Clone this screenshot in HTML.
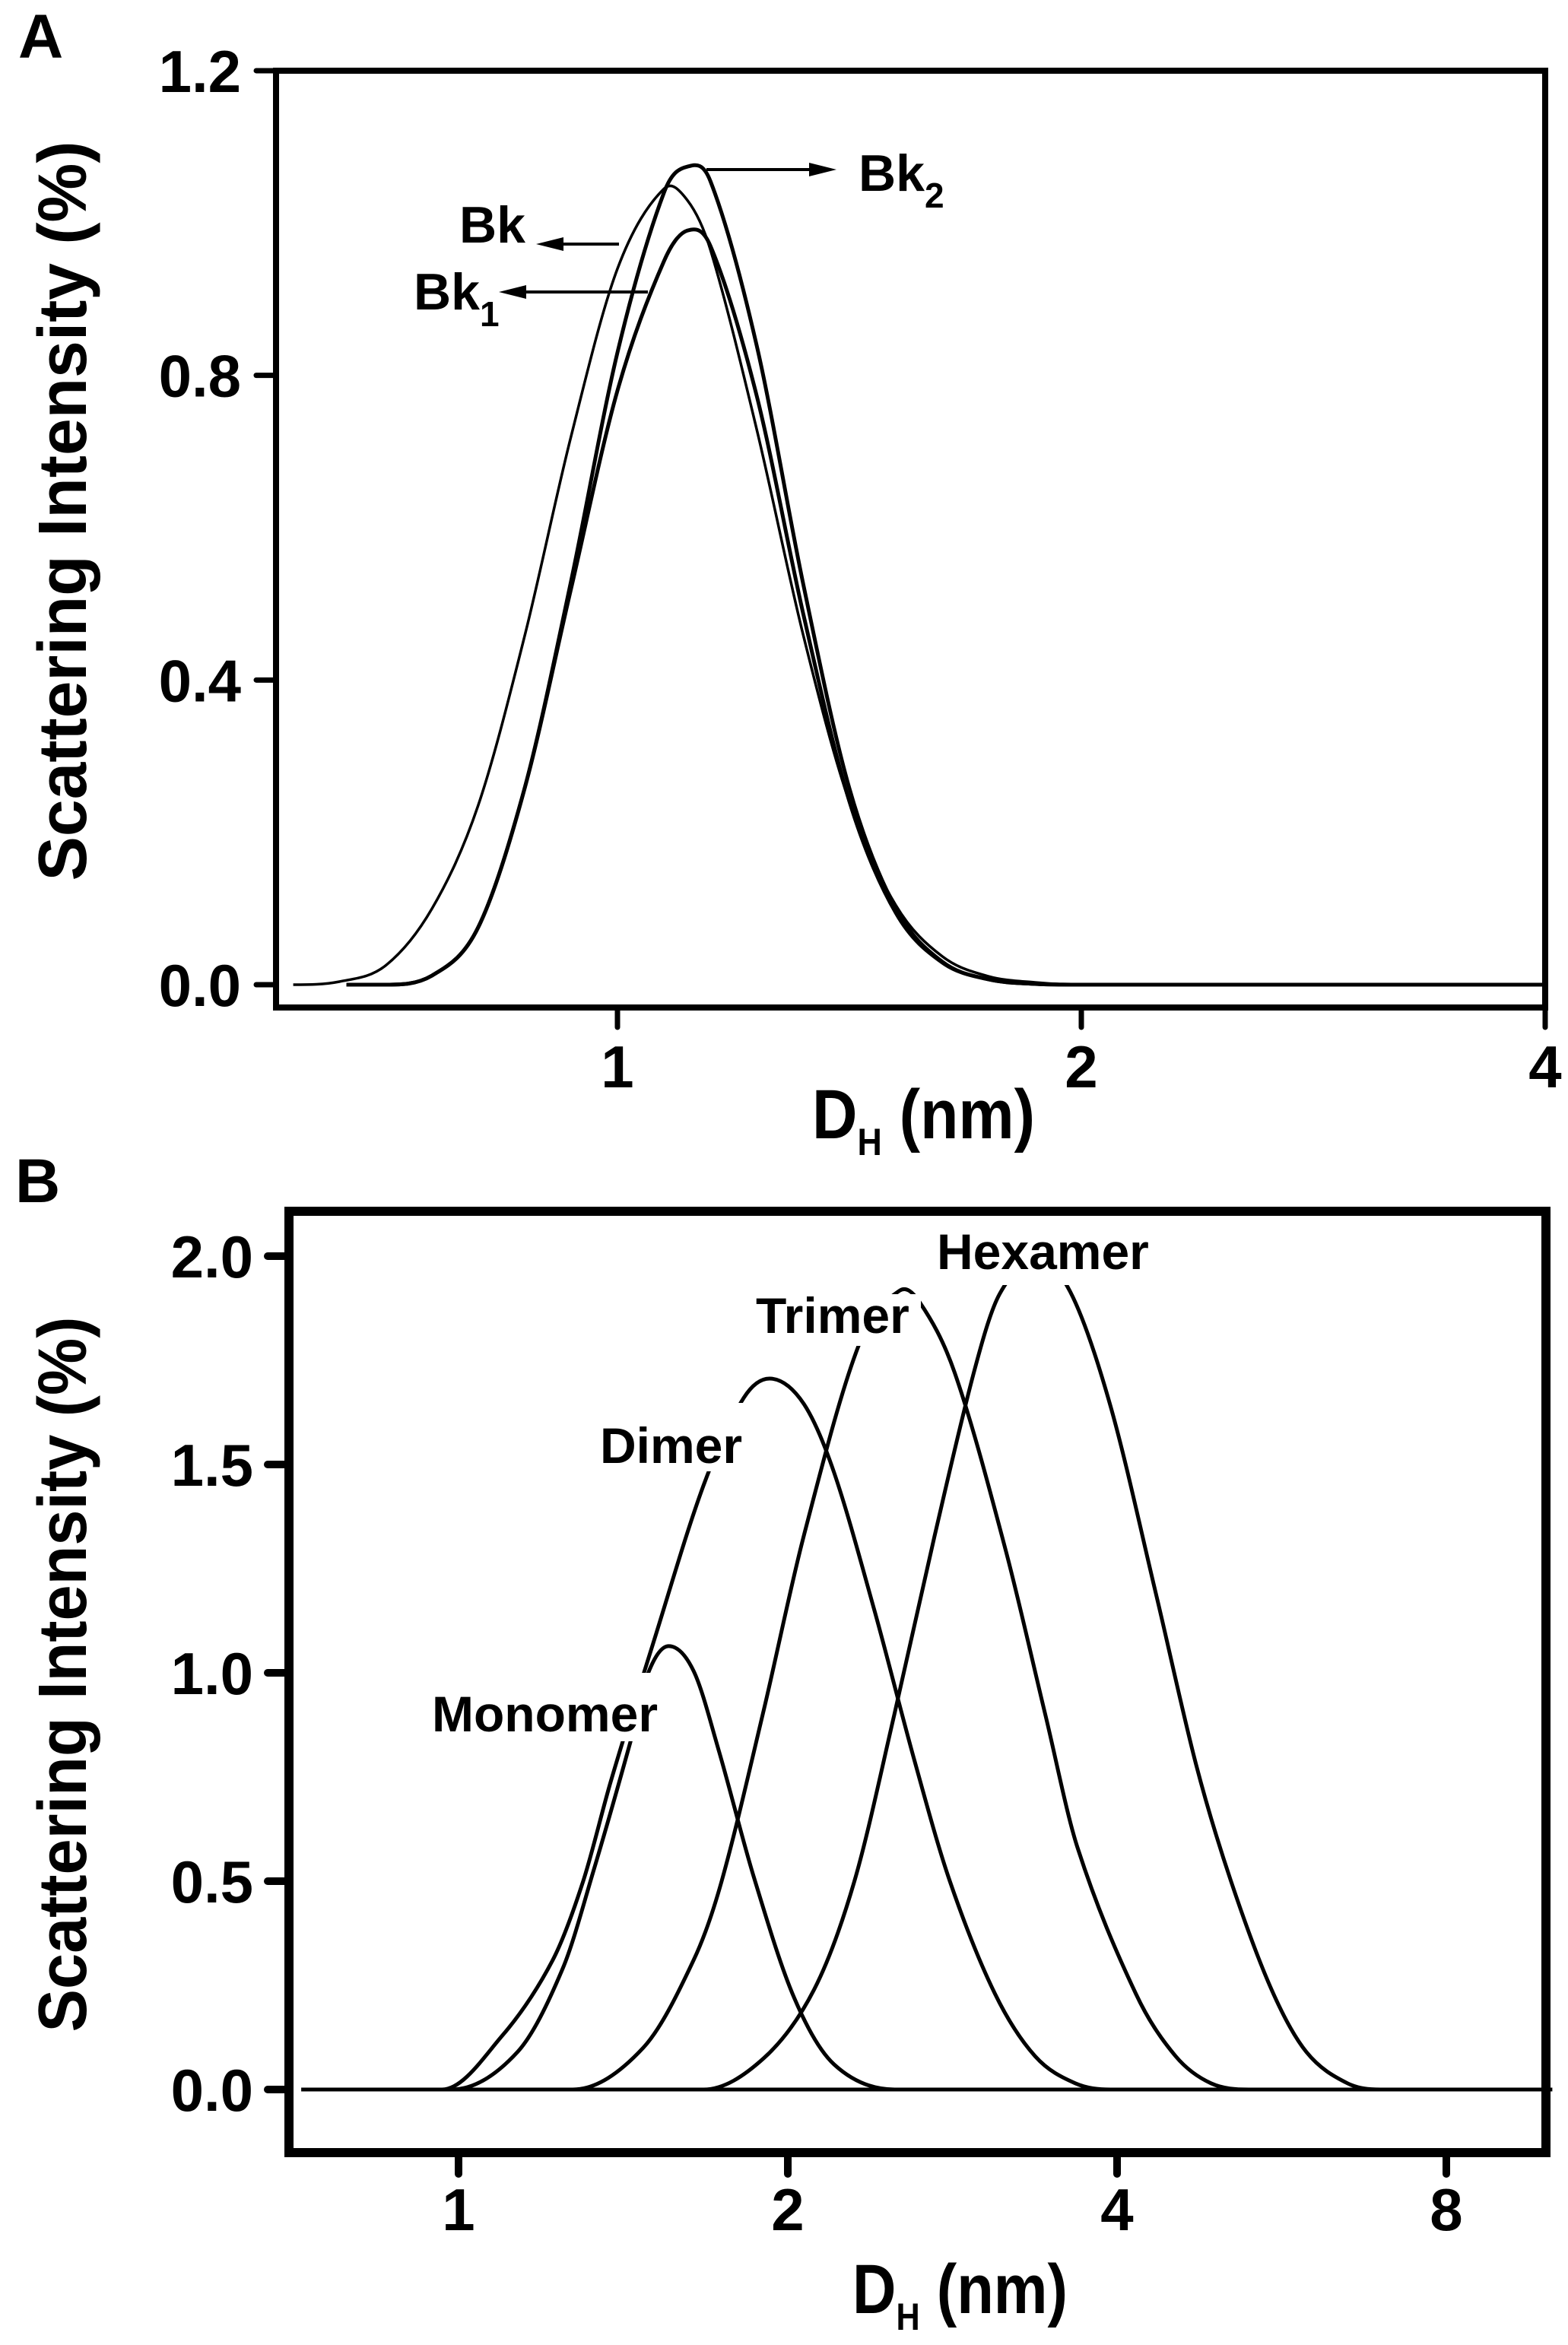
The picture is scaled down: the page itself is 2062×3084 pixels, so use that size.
<!DOCTYPE html>
<html>
<head>
<meta charset="utf-8">
<style>
  html,body{margin:0;padding:0;background:#fff;}
  svg{display:block;}
  text{font-family:"Liberation Sans",Arial,sans-serif;font-weight:bold;fill:#000;}
</style>
</head>
<body>
<svg id="fig" width="2062" height="3084" viewBox="0 0 2062 3084" xmlns="http://www.w3.org/2000/svg">
  <rect x="0" y="0" width="2062" height="3084" fill="#fff"/>
  <g id="panelA">
    <text x="24" y="76" font-size="82">A</text>
    <g id="curvesA"></g>
    <rect x="363" y="93" width="1669" height="1232" fill="none" stroke="#000" stroke-width="8"/>
    <g id="ticksA"></g>
    <text transform="translate(113,672) rotate(-90)" text-anchor="middle" font-size="90" textLength="973" lengthAdjust="spacingAndGlyphs">Scattering Intensity (%)</text>
    <text x="1068" y="1497" font-size="92" textLength="293" lengthAdjust="spacingAndGlyphs">D<tspan font-size="50" dy="22">H</tspan><tspan dy="-22"> (nm)</tspan></text>
    <g>
      <line x1="929" y1="223" x2="1070" y2="223" stroke="#000" stroke-width="4"/>
      <polygon points="1100,223 1064,214 1064,232" fill="#000"/>
      <text x="1129" y="251" font-size="68">Bk<tspan font-size="46" dy="22">2</tspan></text>
    </g>
    <g>
      <line x1="814" y1="321" x2="735" y2="321" stroke="#000" stroke-width="4"/>
      <polygon points="705,321 741,312 741,330" fill="#000"/>
      <text x="604" y="319" font-size="68">Bk</text>
    </g>
    <g>
      <line x1="852" y1="384" x2="686" y2="384" stroke="#000" stroke-width="4"/>
      <polygon points="656,384 692,375 692,393" fill="#000"/>
      <text x="544" y="407" font-size="68">Bk<tspan font-size="46" dy="22">1</tspan></text>
    </g>
  </g>
  <g id="panelB">
    <text x="20" y="1581" font-size="82">B</text>
    <g id="curvesB"></g>
    <g>
      <rect x="560" y="2200" width="322" height="90" fill="#fff"/>
      <text x="568" y="2277" font-size="66">Monomer</text>
      <rect x="780" y="1845" width="210" height="90" fill="#fff"/>
      <text x="789" y="1924" font-size="66">Dimer</text>
      <rect x="985" y="1702" width="226" height="68" fill="#fff"/>
      <text x="994" y="1753" font-size="66">Trimer</text>
      <rect x="1225" y="1605" width="296" height="85" fill="#fff"/>
      <text x="1232" y="1669" font-size="66">Hexamer</text>
    </g>
    <rect x="380" y="1593" width="1653" height="1238" fill="none" stroke="#000" stroke-width="12"/>
    <g id="ticksB"></g>
    <text transform="translate(113,2202) rotate(-90)" text-anchor="middle" font-size="90" textLength="941" lengthAdjust="spacingAndGlyphs">Scattering Intensity (%)</text>
    <text x="1121" y="3042" font-size="92" textLength="283" lengthAdjust="spacingAndGlyphs">D<tspan font-size="50" dy="22">H</tspan><tspan dy="-22"> (nm)</tspan></text>
  </g>
</svg>
<script>
// ---------- Panel A data (D in nm, intensity in %) ----------
const aD = [0.616,0.660,0.707,0.758,0.812,0.871,0.933,1.000,1.072,1.110,1.149,1.231,1.320,1.414,1.516,1.625,1.741,1.866,2.000,4.000];
const aBk = [0,0.004,0.025,0.10,0.235,0.46,0.72,0.94,1.045,1.03,0.965,0.730,0.459,0.240,0.104,0.037,0.011,0.003,0,0];
const aDthick = [0.667,0.707,0.758,0.812,0.871,0.933,1.000,1.072,1.110,1.149,1.231,1.320,1.414,1.516,1.625,1.741,1.866,2.000,4.000];
const aBk1 = [0,0,0.012,0.075,0.26,0.52,0.78,0.95,0.99,0.97,0.774,0.487,0.241,0.094,0.029,0.007,0.001,0,0];
const aBk2 = [0,0,0.012,0.075,0.26,0.53,0.83,1.04,1.074,1.055,0.840,0.526,0.258,0.100,0.030,0.007,0.001,0,0];
const aYTicks = [0,0.4,0.8,1.2];
const aYTickLabels = ["0.0","0.4","0.8","1.2"];
const aXTicks = [1,2,4];
const aXTickLabels = ["1","2","4"];

// ---------- Panel B data ----------
const bMonoD = [0.986,1.132,1.245,1.327,1.438,1.491,1.555,1.640,1.729,1.862,2.027,2.205,2.504];
const bMonoI = [0,0.09,0.29,0.52,0.84,1.0,1.064,1.005,0.815,0.51,0.22,0.06,0];
const bDimD = [0.966,1.097,1.219,1.300,1.378,1.506,1.675,1.823,1.933,2.069,2.205,2.400,2.611,2.813,3.093,3.366,3.663,3.945];
const bDimI = [0,0.13,0.31,0.50,0.74,1.07,1.45,1.66,1.706,1.645,1.48,1.15,0.79,0.50,0.23,0.08,0.015,0];
const bTriD = [1.272,1.475,1.640,1.740,1.901,2.069,2.325,2.530,2.639,2.842,3.160,3.439,3.681,4.161,4.525,4.874,5.278];
const bTriI = [0,0.10,0.31,0.50,0.91,1.33,1.79,1.917,1.89,1.72,1.30,0.90,0.58,0.23,0.08,0.015,0];
const bHexD = [1.675,1.901,2.114,2.301,2.503,2.725,2.965,3.125,3.366,3.624,3.945,4.341,4.724,5.084,5.537,5.959,6.497,6.964];
const bHexI = [0,0.075,0.24,0.50,0.90,1.33,1.73,1.91,1.99,1.915,1.64,1.19,0.78,0.50,0.24,0.09,0.015,0];
const bBaseD = [0.718,10.0];
const bBaseI = [0,0];
const bYTicks = [0,0.5,1.0,1.5,2.0];
const bYTickLabels = ["0.0","0.5","1.0","1.5","2.0"];
const bXTicks = [1,2,4,8];
const bXTickLabels = ["1","2","4","8"];

const NS = "http://www.w3.org/2000/svg";
function xA(d){ return 812 + 610*Math.log2(d); }
function yA(v){ return 1295 - v*1001.7; }
function xB(d){ return 603 + 433*Math.log2(d); }
function yB(v){ return 2748 - v*548; }

function smoothPath(xs, ys, yBase){
  const n = xs.length;
  let p = "M" + xs[0].toFixed(1) + "," + ys[0].toFixed(1);
  for (let i=0;i<n-1;i++){
    const x0 = i>0 ? xs[i-1] : xs[i], y0 = i>0 ? ys[i-1] : ys[i];
    const x3 = i+2<n ? xs[i+2] : xs[i+1], y3 = i+2<n ? ys[i+2] : ys[i+1];
    const h = xs[i+1]-xs[i];
    let t1 = (ys[i+1]-y0)/((xs[i+1]-x0)||1);
    let t2 = (y3-ys[i])/((x3-xs[i])||1);
    if (ys[i] >= yBase - 0.5) t1 = 0;
    if (ys[i+1] >= yBase - 0.5) t2 = 0;
    let c1y = ys[i] + t1*h/3, c2y = ys[i+1] - t2*h/3;
    c1y = Math.min(c1y, yBase); c2y = Math.min(c2y, yBase);
    p += " C" + (xs[i]+h/3).toFixed(1) + "," + c1y.toFixed(1) + " " +
         (xs[i+1]-h/3).toFixed(1) + "," + c2y.toFixed(1) + " " +
         xs[i+1].toFixed(1) + "," + ys[i+1].toFixed(1);
  }
  return p;
}

function drawSeries(parent, D, I, fx, fy, width, name){
  const el = document.createElementNS(NS, "path");
  el.setAttribute("d", smoothPath(D.map(fx), I.map(fy), fy(0)));
  el.setAttribute("fill", "none");
  el.setAttribute("stroke", "#000");
  el.setAttribute("stroke-width", width);
  el.setAttribute("stroke-linejoin", "round");
  
  
  parent.appendChild(el);
}

const cA = document.getElementById("curvesA");
drawSeries(cA, aD, aBk, xA, yA, 3.5, "curve-bk");
drawSeries(cA, aDthick, aBk1, xA, yA, 5, "curve-bk1");
drawSeries(cA, aDthick, aBk2, xA, yA, 5, "curve-bk2");

const cB = document.getElementById("curvesB");
drawSeries(cB, bBaseD, bBaseI, xB, yB, 5, "baseline-zero");
drawSeries(cB, bMonoD, bMonoI, xB, yB, 5, "curve-monomer");
drawSeries(cB, bDimD, bDimI, xB, yB, 5, "curve-dimer");
drawSeries(cB, bTriD, bTriI, xB, yB, 5, "curve-trimer");
drawSeries(cB, bHexD, bHexI, xB, yB, 5, "curve-hexamer");

function drawTicks(g, yt, ytl, xt, xtl, fx, fy, leftX, bottomY, tickLen, sw, yLabelRight, xLabelBase, fs){
  for (let i=0;i<yt.length;i++){
    const y = fy(yt[i]);
    const ln = document.createElementNS(NS, "line");
    ln.setAttribute("x1", leftX - tickLen); ln.setAttribute("x2", leftX);
    ln.setAttribute("y1", y); ln.setAttribute("y2", y);
    ln.setAttribute("stroke", "#000"); ln.setAttribute("stroke-width", sw);
    ln.setAttribute("stroke-linecap", "round");
    
    
    g.appendChild(ln);
    const tx = document.createElementNS(NS, "text");
    tx.setAttribute("x", yLabelRight); tx.setAttribute("y", y + 28);
    tx.setAttribute("text-anchor", "end"); tx.setAttribute("font-size", fs);
    tx.textContent = ytl[i];
    
    
    g.appendChild(tx);
  }
  for (let i=0;i<xt.length;i++){
    const x = fx(xt[i]);
    const ln = document.createElementNS(NS, "line");
    ln.setAttribute("x1", x); ln.setAttribute("x2", x);
    ln.setAttribute("y1", bottomY); ln.setAttribute("y2", bottomY + tickLen);
    ln.setAttribute("stroke", "#000"); ln.setAttribute("stroke-width", sw);
    ln.setAttribute("stroke-linecap", "round");
    
    
    g.appendChild(ln);
    const tx = document.createElementNS(NS, "text");
    tx.setAttribute("x", x); tx.setAttribute("y", xLabelBase);
    tx.setAttribute("text-anchor", "middle"); tx.setAttribute("font-size", fs);
    tx.textContent = xtl[i];
    
    
    g.appendChild(tx);
  }
}
drawTicks(document.getElementById("ticksA"), aYTicks, aYTickLabels, aXTicks, aXTickLabels, xA, yA, 363, 1325, 26, 7, 317, 1430, 78);
drawTicks(document.getElementById("ticksB"), bYTicks, bYTickLabels, bXTicks, bXTickLabels, xB, yB, 380, 2831, 28, 10, 333, 2933, 78);
</script>
</body>
</html>
